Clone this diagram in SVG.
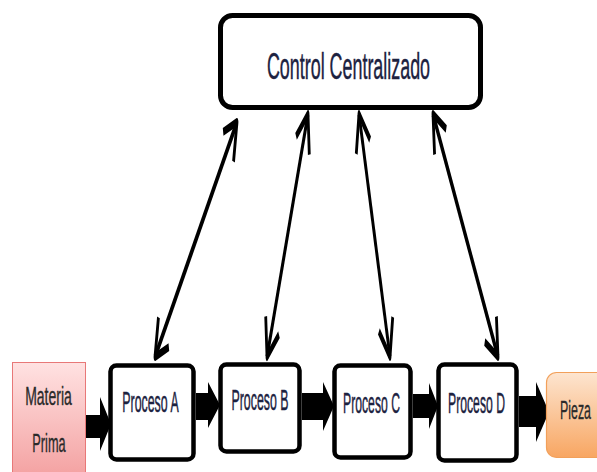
<svg xmlns="http://www.w3.org/2000/svg" width="597" height="472" viewBox="0 0 597 472">
  <defs>
    <linearGradient id="gPink" x1="0" y1="0" x2="0" y2="1">
      <stop offset="0" stop-color="#FFE2E2"/>
      <stop offset="1" stop-color="#F39E9E"/>
    </linearGradient>
    <linearGradient id="gOrange" x1="0" y1="0" x2="0" y2="1">
      <stop offset="0" stop-color="#FDE5D0"/>
      <stop offset="1" stop-color="#F8A662"/>
    </linearGradient>
    <marker id="chev" viewBox="-45 -30 50 60" refX="0" refY="0" markerWidth="50" markerHeight="60" markerUnits="userSpaceOnUse" orient="auto-start-reverse">
      <path d="M-35,-21 L0,0 L-35,21" fill="none" stroke="#000" stroke-width="8" stroke-linejoin="round"/>
    </marker>
  </defs>
  <style>
    .proc { fill: #fff; stroke: #000; stroke-width: 4.5; }
    .lbl { font-family: "Liberation Sans", Arial, sans-serif; fill: #1c2240; stroke: #1c2240; stroke-width: 0.45; text-anchor: middle; }
    .lbl2 { font-family: "Liberation Sans", Arial, sans-serif; fill: #2a2a2a; stroke: #2a2a2a; stroke-width: 0.35; text-anchor: middle; }
    .flow { fill: #000; }
    .link { fill: none; stroke: #000; stroke-width: 8; marker-start: url(#chev); marker-end: url(#chev); }
  </style>

  <g id="connectors">
    <polygon class="flow" points="86,415 100,415 100,397 111,424 100,451 100,438 86,438"/>
    <polygon class="flow" points="196,393 208,393 208,382 220,405 208,428 208,420 196,420"/>
    <polygon class="flow" points="302,393 323,393 323,382 334,406 323,431 323,420 302,420"/>
    <polygon class="flow" points="413,394 429,394 429,383 438,406 429,429 429,418 413,418"/>
    <polygon class="flow" points="519,396 536,396 536,382 549,412 536,442 536,427 519,427"/>
    <g transform="scale(0.35,1)">
      <line class="link" x1="677.1" y1="122" x2="442.9" y2="357"/>
      <line class="link" x1="880" y1="114" x2="762.9" y2="357"/>
      <line class="link" x1="1025.7" y1="114" x2="1114.3" y2="357"/>
      <line class="link" x1="1237.1" y1="114" x2="1422.9" y2="357"/>
    </g>
  </g>

  <g id="control">
    <rect x="221" y="17" width="260" height="92" rx="12" fill="#000"/>
    <rect x="220.5" y="15.5" width="260" height="92" rx="12" fill="#fff" stroke="#000" stroke-width="5"/>
    <text class="lbl" transform="translate(348.5,79) scale(0.484,1)" font-size="37" stroke-width="0.6">Control Centralizado</text>
  </g>

  <g id="materia">
    <rect x="12.5" y="362.5" width="73" height="120" fill="url(#gPink)" stroke="#E87878" stroke-width="1"/>
    <text class="lbl2" transform="translate(48.5,405) scale(0.56,1)" font-size="25">Materia</text>
    <text class="lbl2" transform="translate(49,452) scale(0.51,1)" font-size="25">Prima</text>
  </g>

  <g id="procesoA">
    <rect class="proc" x="110.5" y="365.5" width="83" height="94" rx="6"/>
    <text class="lbl" transform="translate(150.5,412) scale(0.426,1)" font-size="29">Proceso A</text>
  </g>

  <g id="procesoB">
    <rect class="proc" x="220.5" y="364.5" width="79" height="87" rx="6"/>
    <text class="lbl" transform="translate(260,410) scale(0.426,1)" font-size="29">Proceso B</text>
  </g>

  <g id="procesoC">
    <rect class="proc" x="334.5" y="365.5" width="76" height="92" rx="6"/>
    <text class="lbl" transform="translate(371.5,413) scale(0.421,1)" font-size="29">Proceso C</text>
  </g>

  <g id="procesoD">
    <rect class="proc" x="438.5" y="364.5" width="78" height="96" rx="6"/>
    <text class="lbl" transform="translate(476.5,413) scale(0.421,1)" font-size="29">Proceso D</text>
  </g>

  <g id="pieza">
    <rect x="546.5" y="372.5" width="62" height="85" rx="10" fill="url(#gOrange)" stroke="#F2A05A" stroke-width="1.2"/>
    <text class="lbl2" transform="translate(575.5,419) scale(0.477,1)" font-size="26">Pieza</text>
  </g>
</svg>
